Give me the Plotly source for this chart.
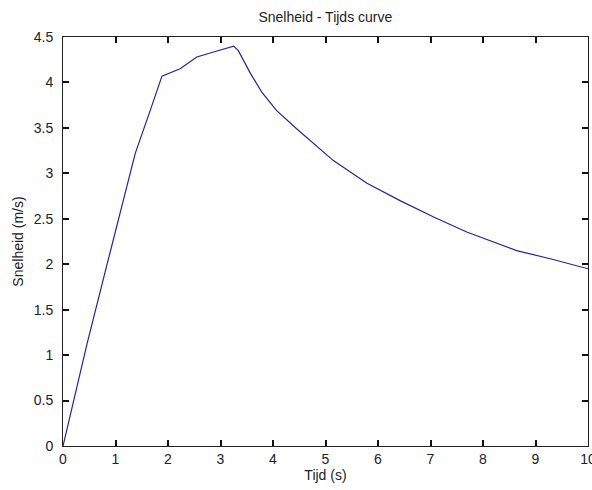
import plotly.graph_objects as go

tijd = [0, 0.2, 0.46, 0.84, 1.376, 1.66, 1.885, 2.23, 2.55, 2.9, 3.25, 3.34, 3.57, 3.79, 4.07, 4.45, 5.15, 5.79, 6.42, 7.06, 7.69, 8.64, 9.28, 10]
snelheid = [0, 0.5, 1.13, 2.0, 3.22, 3.69, 4.07, 4.15, 4.28, 4.34, 4.40, 4.35, 4.10, 3.89, 3.69, 3.49, 3.14, 2.89, 2.70, 2.52, 2.355, 2.15, 2.06, 1.95]

x_ticks = list(range(0, 11))
y_ticks = [0, 0.5, 1, 1.5, 2, 2.5, 3, 3.5, 4, 4.5]
y_labels = ["0", "0.5", "1", "1.5", "2", "2.5", "3", "3.5", "4", "4.5"]

fig = go.Figure()
fig.add_trace(go.Scatter(x=tijd, y=snelheid, mode="lines",
                         line=dict(color="#23239c", width=1.2), showlegend=False))

font = dict(family="Liberation Sans, Arial, sans-serif", size=14, color="#222222")
axis_common = dict(showline=True, linecolor="#222222", linewidth=1, mirror="allticks",
                   ticks="inside", ticklen=6, tickcolor="#111111", tickwidth=1.5,
                   showgrid=False, zeroline=False, tickfont=font,
                   ticklabeloverflow="allow", layer="above traces")

fig.update_layout(
    width=592, height=490,
    margin=dict(l=63, r=4, t=37, b=44, autoexpand=False),
    paper_bgcolor="white", plot_bgcolor="white",
    font=font,
    title=dict(text="Snelheid - Tijds curve", x=(62.7 + 588) / 2 / 592, xanchor="center",
               y=1 - 17 / 490, yanchor="middle", font=font),
    xaxis=dict(range=[0, 10], tickmode="array", tickvals=x_ticks,
               ticktext=[str(v) for v in x_ticks],
               title=dict(text="Tijd (s)", font=font, standoff=2), automargin=False,
               **axis_common),
    yaxis=dict(range=[0, 4.5], tickmode="array", tickvals=y_ticks, ticktext=y_labels,
               title=dict(text="Snelheid (m/s)", font=font, standoff=6), automargin=False,
               ticklabelstandoff=6, **axis_common),
)

fig.write_html("out.html", config={"displayModeBar": False},
               post_script="document.body.style.margin='0';")
